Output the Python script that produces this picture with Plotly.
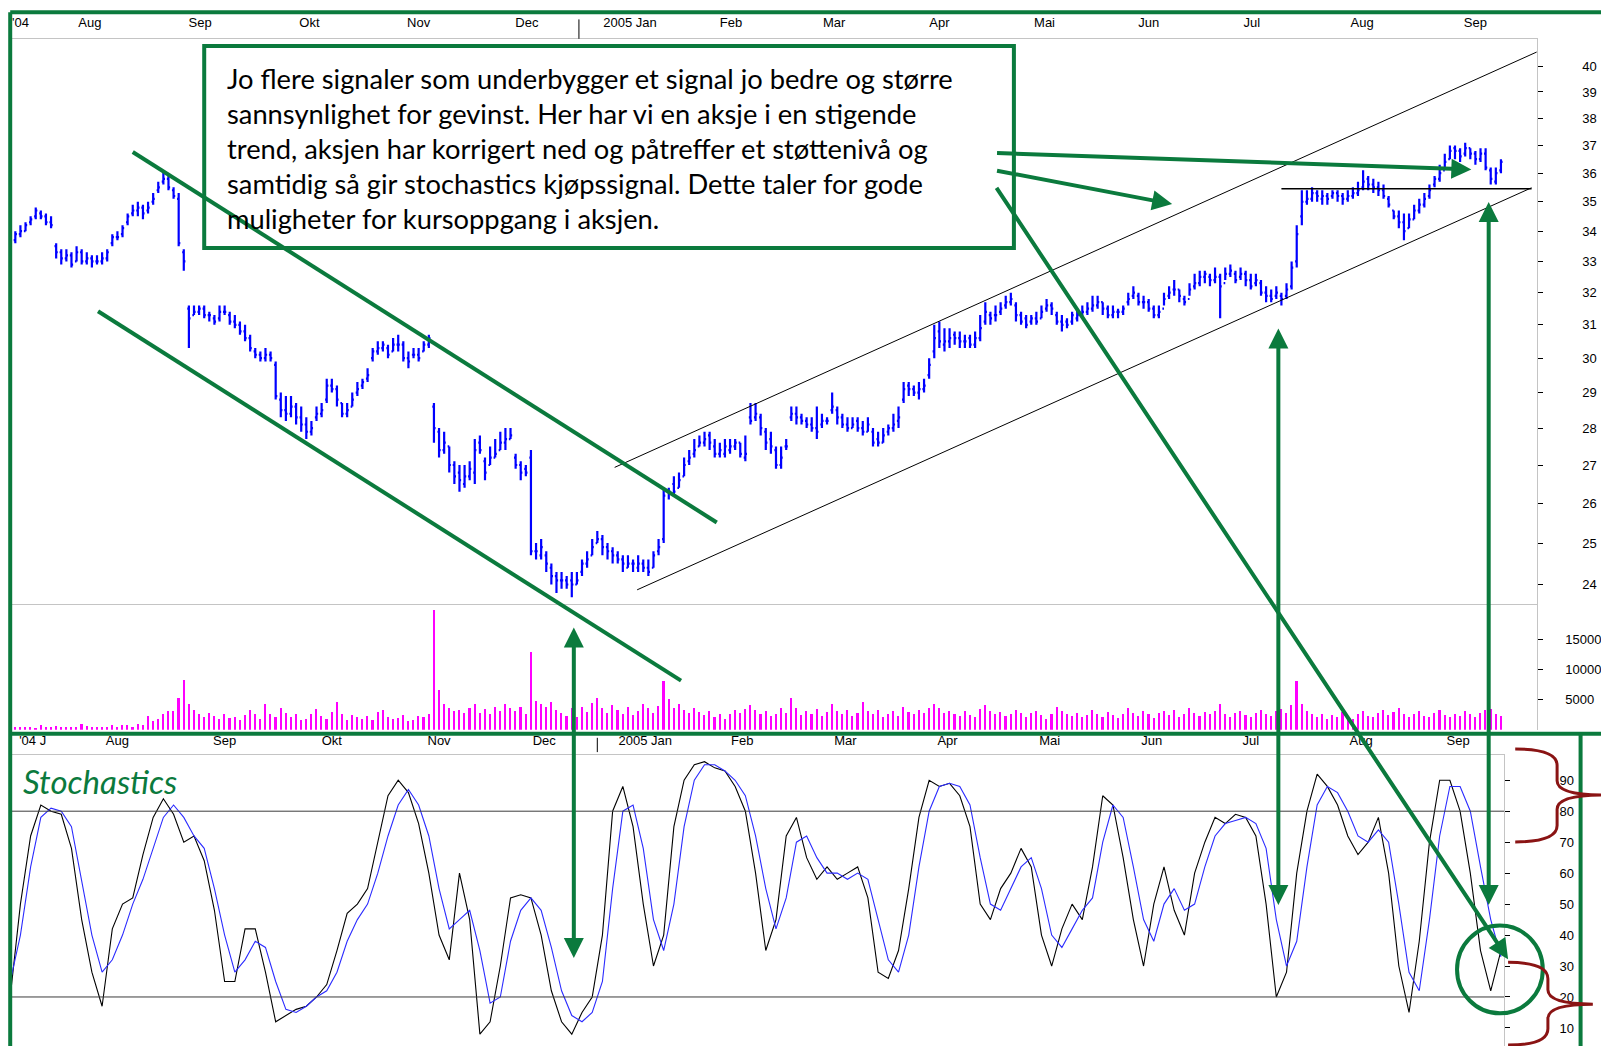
import math
import plotly.graph_objects as go

# ---------------- data (daily bars, index = trading day from late July 2004) ----------------
price_open = [
33.6,33.7,33.9,34.0,34.3,34.5,34.6,34.5,34.3,33.5,
33.3,33.1,33.2,33.0,33.3,33.0,33.1,33.0,33.0,33.1,
33.6,33.8,33.9,34.3,34.6,34.7,34.8,34.7,35.0,35.4,
35.7,35.8,35.4,35.1,33.3,31.5,31.3,31.4,31.5,31.3,
31.2,31.2,31.4,31.3,31.1,31.0,30.8,30.6,30.2,30.1,
30.0,30.1,29.8,28.8,28.5,28.4,28.6,28.3,28.1,27.9,
28.3,28.4,28.8,29.2,29.1,28.7,28.4,28.6,29.0,29.2,
29.4,30.0,30.2,30.3,30.3,30.2,30.4,30.4,30.0,30.1,
30.1,30.2,30.4,28.6,27.9,27.4,27.5,27.0,26.8,26.5,
26.7,26.8,27.6,27.1,27.0,27.2,27.4,27.6,27.7,27.2,
27.0,26.9,27.2,24.8,24.7,24.7,24.4,24.2,24.1,24.1,
24.1,24.0,24.3,24.5,24.7,25.0,25.1,24.9,24.8,24.7,
24.6,24.4,24.5,24.4,24.5,24.4,24.4,24.8,25.1,26.3,
26.5,26.4,26.7,27.1,27.3,27.5,27.6,27.8,27.5,27.3,
27.3,27.4,27.5,27.6,27.2,28.3,28.3,28.3,27.9,27.7,
27.4,27.0,27.5,28.3,28.4,28.3,28.2,28.1,28.0,28.1,
28.2,28.5,28.5,28.3,28.1,28.0,28.2,28.0,27.9,27.9,
27.7,27.6,27.9,28.0,28.2,28.8,29.2,29.1,29.0,29.1,
29.5,30.2,30.8,30.4,30.5,30.7,30.6,30.5,30.6,30.4,
30.6,31.1,31.3,31.3,31.4,31.6,31.7,31.6,31.3,31.2,
31.1,31.2,31.2,31.5,31.6,31.3,31.1,31.1,31.1,31.2,
31.3,31.4,31.5,31.6,31.7,31.5,31.3,31.4,31.4,31.7,
31.9,31.9,31.7,31.7,31.5,31.3,31.5,31.9,32.1,32.1,
31.8,31.8,32.2,32.3,32.5,32.5,32.4,32.5,32.3,32.6,
32.6,32.5,32.6,32.4,32.3,32.3,32.0,31.9,31.9,31.9,
31.9,32.2,33.0,34.5,35.0,35.1,35.3,35.1,35.2,35.2,
35.3,35.2,35.1,35.2,35.3,35.5,35.8,35.6,35.5,35.4,
35.1,34.7,34.5,34.3,34.1,34.4,34.7,34.9,35.2,35.6,
35.8,36.1,36.5,36.9,36.8,36.7,36.9,36.7,36.5,36.7,
36.1,35.7,36.1]

price_high = [
33.9,34.0,34.2,34.3,34.5,34.8,34.7,34.6,34.5,33.6,
33.4,33.4,33.3,33.5,33.4,33.3,33.2,33.2,33.3,33.4,
33.9,34.0,34.2,34.6,34.9,35.0,34.9,35.0,35.3,35.7,
36.1,35.9,35.5,35.3,33.4,31.6,31.6,31.6,31.6,31.4,
31.3,31.6,31.6,31.4,31.3,31.1,31.0,30.7,30.3,30.2,
30.3,30.2,29.9,29.0,28.9,28.9,28.7,28.6,28.3,28.2,
28.6,28.7,29.4,29.4,29.2,28.7,28.7,29.0,29.3,29.4,
29.7,30.3,30.5,30.5,30.4,30.6,30.7,30.5,30.2,30.3,
30.3,30.5,30.7,28.7,28.0,27.9,27.5,27.1,27.0,27.0,
27.1,27.7,27.8,27.2,27.5,27.7,27.9,28.0,28.0,27.3,
27.1,27.0,27.4,25.0,25.1,24.8,24.5,24.3,24.3,24.2,
24.3,24.3,24.6,24.8,25.1,25.3,25.2,25.0,24.9,24.8,
24.7,24.7,24.6,24.7,24.6,24.6,24.8,25.1,26.4,26.4,
26.7,26.8,27.2,27.4,27.7,27.8,27.9,27.9,27.7,27.6,
27.7,27.7,27.7,27.6,27.8,28.7,28.7,28.4,28.0,27.9,
27.5,27.5,27.7,28.6,28.6,28.4,28.3,28.3,28.6,28.4,
28.3,29.0,28.6,28.4,28.3,28.3,28.3,28.2,28.3,28.0,
27.9,28.0,28.1,28.4,28.6,29.3,29.3,29.2,29.3,29.4,
30.0,31.0,31.1,30.9,30.9,30.8,30.8,30.7,30.7,30.8,
31.3,31.7,31.4,31.6,31.7,31.9,32.0,31.7,31.4,31.3,
31.3,31.4,31.6,31.8,31.7,31.4,31.3,31.2,31.4,31.5,
31.6,31.7,31.9,31.9,31.7,31.6,31.6,31.5,31.6,32.0,
32.2,32.0,31.9,31.8,31.6,31.6,32.0,32.2,32.4,32.1,
31.9,32.3,32.6,32.7,32.7,32.6,32.8,32.6,32.8,32.9,
32.7,32.8,32.7,32.6,32.6,32.4,32.2,32.1,32.2,32.0,
32.3,33.0,34.2,35.4,35.4,35.5,35.4,35.4,35.3,35.4,
35.4,35.3,35.4,35.5,35.7,36.1,35.9,35.8,35.7,35.6,
35.2,34.7,34.7,34.6,34.6,34.9,35.1,35.3,35.6,35.9,
36.3,36.7,37.0,37.0,36.9,37.1,36.9,36.8,36.9,36.9,
36.2,36.2,36.5]

price_low = [
33.5,33.6,33.8,34.0,34.2,34.4,34.4,34.2,34.1,33.1,
32.9,33.0,32.8,33.0,32.9,32.9,32.8,32.9,32.9,33.0,
33.5,33.7,33.8,34.2,34.5,34.5,34.4,34.6,34.9,35.3,
35.6,35.4,35.1,33.5,32.7,30.3,31.3,31.3,31.2,31.1,
31.0,31.1,31.3,31.0,30.9,30.7,30.5,30.2,30.0,29.9,
29.9,29.9,28.8,28.3,28.2,28.3,28.1,27.9,27.7,27.8,
28.2,28.3,28.7,29.0,28.6,28.3,28.3,28.6,28.9,29.1,
29.3,29.9,30.1,30.2,30.0,30.2,30.2,29.9,29.7,30.0,
29.9,30.2,30.3,27.6,27.2,27.3,26.8,26.5,26.3,26.4,
26.6,26.5,27.3,26.6,27.0,27.2,27.4,27.4,27.7,26.9,
26.6,26.7,24.7,24.6,24.6,24.3,24.0,23.8,23.9,23.9,
23.7,24.0,24.2,24.4,24.7,25.0,24.7,24.6,24.5,24.5,
24.3,24.4,24.3,24.3,24.3,24.2,24.4,24.7,25.0,26.1,
26.2,26.4,26.7,27.0,27.2,27.5,27.5,27.4,27.2,27.2,
27.2,27.3,27.4,27.2,27.1,28.1,28.2,27.8,27.4,27.3,
26.9,26.9,27.4,28.2,28.1,28.1,28.0,27.9,27.7,28.0,
28.1,28.4,28.1,28.0,27.9,28.0,27.9,27.8,27.9,27.5,
27.5,27.6,27.8,27.9,28.0,28.7,28.9,28.9,28.8,29.0,
29.4,30.0,30.3,30.2,30.3,30.4,30.3,30.3,30.3,30.3,
30.5,31.0,31.0,31.1,31.3,31.5,31.6,31.1,31.0,30.9,
31.0,31.0,31.2,31.4,31.3,31.0,30.8,30.9,31.0,31.1,
31.2,31.3,31.4,31.5,31.3,31.2,31.2,31.2,31.3,31.6,
31.8,31.6,31.5,31.4,31.2,31.2,31.6,31.8,31.9,31.7,
31.6,31.9,32.1,32.2,32.3,32.2,32.3,31.2,32.4,32.5,
32.3,32.4,32.2,32.1,32.2,31.9,31.7,31.7,31.8,31.6,
31.8,32.1,32.8,34.2,34.9,35.0,35.0,34.9,34.9,35.1,
35.0,34.9,35.0,35.1,35.2,35.4,35.4,35.3,35.2,35.1,
34.8,34.4,34.1,33.7,34.1,34.4,34.6,34.8,35.1,35.5,
35.7,36.2,36.5,36.5,36.4,36.6,36.5,36.3,36.4,36.1,
35.6,35.6,36.0]

price_close = [
33.7,33.9,34.0,34.2,34.4,34.7,34.5,34.3,34.2,33.3,
33.1,33.2,32.9,33.3,33.0,33.1,33.0,33.0,33.1,33.3,
33.8,33.8,34.1,34.5,34.7,34.8,34.6,34.8,35.1,35.5,
35.8,35.5,35.2,33.6,33.0,31.2,31.4,31.5,31.3,31.3,
31.1,31.4,31.4,31.1,31.0,30.8,30.6,30.3,30.1,30.0,
30.1,30.0,28.9,28.5,28.4,28.6,28.3,28.1,27.9,28.0,
28.4,28.5,29.2,29.1,28.8,28.4,28.5,28.8,29.1,29.3,
29.5,30.2,30.3,30.4,30.1,30.4,30.4,30.0,29.9,30.1,
30.0,30.4,30.6,28.0,27.4,27.6,27.0,26.7,26.6,26.7,
26.9,27.4,27.4,26.8,27.2,27.3,27.6,27.7,27.8,27.0,
26.8,26.8,24.8,24.8,24.9,24.5,24.2,24.1,24.1,24.0,
24.0,24.1,24.5,24.6,24.9,25.1,24.9,24.8,24.7,24.6,
24.5,24.5,24.5,24.5,24.4,24.3,24.7,24.9,26.2,26.3,
26.3,26.6,27.0,27.2,27.4,27.6,27.7,27.6,27.3,27.4,
27.5,27.5,27.6,27.3,27.3,28.2,28.4,28.0,27.6,27.5,
27.0,27.2,27.5,28.4,28.3,28.2,28.1,28.0,27.9,28.2,
28.2,28.6,28.3,28.1,28.0,28.1,28.0,27.9,28.1,27.6,
27.6,27.8,28.0,28.1,28.3,29.1,29.1,29.0,29.1,29.2,
29.8,30.6,30.5,30.5,30.6,30.6,30.5,30.5,30.4,30.6,
30.9,31.4,31.2,31.3,31.5,31.7,31.8,31.3,31.1,31.0,
31.2,31.1,31.4,31.6,31.5,31.1,31.0,31.0,31.3,31.3,
31.4,31.5,31.6,31.7,31.5,31.3,31.4,31.4,31.5,31.8,
32.0,31.7,31.7,31.5,31.3,31.4,31.8,32.0,32.1,31.9,
31.7,32.1,32.3,32.5,32.6,32.4,32.5,32.2,32.6,32.7,
32.4,32.6,32.4,32.2,32.4,32.0,31.9,31.8,32.0,31.8,
32.1,32.8,33.9,35.0,35.1,35.3,35.2,35.2,35.1,35.3,
35.2,35.1,35.2,35.3,35.4,35.7,35.6,35.5,35.4,35.2,
34.9,34.5,34.3,34.0,34.4,34.7,34.9,35.1,35.4,35.8,
36.0,36.4,36.8,36.8,36.6,36.9,36.7,36.5,36.7,36.2,
35.8,36.0,36.4]

volume = [
600,400,500,450,350,300,800,500,400,600,
500,350,450,400,900,600,450,500,400,350,
700,450,800,700,500,900,700,2200,1400,1800,
2500,3000,3000,5200,8200,4200,3200,2500,2000,2800,
2200,1700,2500,1900,2000,1500,2400,3200,2600,1800,
4300,2500,2100,3600,2800,2000,2600,1500,1800,2500,
3400,2200,1700,2900,4500,2600,1500,2400,2000,1800,
2200,1600,2900,3200,2100,1700,1900,2400,1400,1600,
2200,2000,2600,19800,6500,4300,3500,3000,3200,2800,
3500,4200,2800,3400,2600,3800,3000,4200,3600,3000,
3800,2600,12900,4800,4200,3800,4500,3200,2800,2200,
3600,2000,3800,2900,4400,5300,3600,2800,4000,3200,
2500,3700,2400,3000,4200,3500,2700,3900,8000,5000,
3600,4200,3200,2800,3500,2900,2400,3100,2000,2600,
1800,2500,3200,2700,3400,4100,3300,2600,3000,2200,
2500,3600,2800,5300,3500,2400,3000,2600,3400,2200,
2900,4200,3100,2500,3300,2200,2800,4500,3000,2600,
3200,2100,2600,3000,2200,3800,2900,2500,3300,2800,
3600,4200,3500,2800,3100,2600,2200,3000,2400,2000,
3400,4000,3000,2600,2900,2200,2500,3200,2700,2100,
2800,3000,2400,1800,2600,3700,3000,2500,2200,2800,
2000,2400,3300,2600,2100,2900,2400,1900,2600,3500,
2800,2200,3000,2500,1900,2700,3100,2400,3300,2000,
2600,3600,2800,2200,2900,2500,3000,4200,2600,2100,
2700,3100,2400,2000,2800,3300,2600,2300,3000,3400,
2800,4000,8000,4200,3000,2600,2100,2500,1800,2400,
2000,2900,2200,1700,2500,3000,2300,2000,2700,3200,
2400,2900,3500,2600,2100,2500,3000,2200,2000,2700,
3300,2400,2000,2600,2200,3000,2500,2100,2700,3200,
3400,2600,2300]

# stochastics, read every second trading day
stoch_k = [
20,50,72,82,80,79,68,45,28,17,
42,50,52,66,78,84,79,70,72,64,
48,25,25,42,42,28,12,14,16,17,
20,24,35,47,50,55,70,85,90,86,
76,60,40,32,60,45,8,12,30,52,
53,52,40,22,12,8,15,20,40,80,
88,75,50,30,40,75,90,95,96,94,
93,88,80,60,35,45,72,78,65,58,
62,58,60,62,52,28,26,35,55,78,
90,88,89,85,75,50,45,55,60,68,
62,40,30,42,50,45,62,85,82,65,
45,30,50,62,48,40,60,70,78,76,
79,78,72,50,20,28,60,80,92,88,
82,72,66,70,78,60,30,15,38,70,
90,90,80,60,35,22,35]
stoch_d = [
25,40,62,78,81,80,75,58,40,28,
32,40,50,58,68,78,82,78,72,68,
55,40,28,32,38,36,25,16,15,17,
20,22,28,38,45,50,60,72,82,87,
82,72,55,42,45,48,35,18,20,38,
48,52,48,36,22,14,12,15,25,55,
80,82,68,45,35,50,75,90,95,95,
93,90,85,72,55,42,52,70,72,65,
60,60,58,60,58,45,32,28,40,62,
80,88,89,88,82,65,50,48,55,62,
65,55,40,36,42,48,52,70,82,78,
62,45,38,50,55,48,50,62,72,76,
77,78,76,68,45,30,38,62,82,88,
86,80,72,70,74,70,50,28,22,45,
72,88,88,80,62,45,33]

# month labels (top chart) and month boundaries, in trading-day units
top_label_pos = [2, 15.6, 37.2, 58.6, 80, 101.2, 121.4, 141.2, 161.4, 182, 202.6, 223, 243.2, 264.8, 287]
top_label_txt = ["'04", "Aug", "Sep", "Okt", "Nov", "Dec", "2005 Jan", "Feb", "Mar", "Apr", "Mai", "Jun", "Jul", "Aug", "Sep"]
month_starts = [5, 26.4, 48, 69, 90.4, 111.4, 131.4, 151, 171.8, 192.4, 212.8, 232.4, 253.2, 275.8, 297.2]
low_label_pos = [4.4, 21, 42, 63, 84, 104.6, 124.4, 143.4, 163.6, 183.6, 203.6, 223.6, 243, 264.6, 283.6]
low_label_txt = ["'04 J", "Aug", "Sep", "Okt", "Nov", "Dec", "2005 Jan", "Feb", "Mar", "Apr", "Mai", "Jun", "Jul", "Aug", "Sep"]
price_ticks = list(range(24, 41))
vol_ticks = [5000, 10000, 15000]
stoch_ticks = [10, 20, 30, 40, 50, 60, 70, 80, 90]

note_lines = [
    "Jo flere signaler som underbygger et signal jo bedre og større",
    "sannsynlighet for gevinst. Her har vi en aksje i en stigende",
    "trend, aksjen har korrigert ned og påtreffer et støttenivå og",
    "samtidig så gir stochastics kjøpssignal. Dette taler for gode",
    "muligheter for kursoppgang i aksjen.",
]

# ---------------- layout helpers ----------------
W, H = 1601, 1046
RW, RH = 1568.0, 1025.0   # reference measuring grid
S = W / RW


def px(x):
    return x / RW


def py(y):
    return 1 - y / RH


GREEN = "#0b7a3d"
RED = "#8a1414"
GRAY = "#c4c4c4"
AXFONT = dict(family="Liberation Sans, Arial, sans-serif", size=13, color="#000")

day = list(range(len(price_close)))
sday = list(range(0, 2 * len(stoch_k), 2))

fig = go.Figure()
fig.add_trace(go.Ohlc(
    x=day, open=price_open, high=price_high, low=price_low, close=price_close,
    xaxis="x", yaxis="y", tickwidth=0.32,
    increasing=dict(line=dict(color="#0000ff", width=2.2)),
    decreasing=dict(line=dict(color="#0000ff", width=2.2)),
    hoverinfo="skip", showlegend=False))
fig.add_trace(go.Bar(
    x=day, y=volume, xaxis="x", yaxis="y2", width=0.42,
    marker=dict(color="#ff00ff", line=dict(width=0)), hoverinfo="skip", showlegend=False))
fig.add_trace(go.Scatter(
    x=sday, y=stoch_k, xaxis="x3", yaxis="y3", mode="lines",
    line=dict(color="#000000", width=1.1), hoverinfo="skip", showlegend=False))
fig.add_trace(go.Scatter(
    x=sday, y=stoch_d, xaxis="x3", yaxis="y3", mode="lines",
    line=dict(color="#2b2bff", width=1.1), hoverinfo="skip", showlegend=False))

xr = [0, (1505 - 10) / 5]
fig.update_layout(
    width=W, height=H, autosize=False,
    margin=dict(l=0, r=0, t=0, b=0, pad=0),
    paper_bgcolor="white", plot_bgcolor="white",
    showlegend=False, bargap=0,
    xaxis=dict(domain=[px(10), px(1505)], range=xr, anchor="y", side="top",
               tickmode="array", tickvals=top_label_pos, ticktext=top_label_txt,
               ticks="outside", ticklen=6, tickcolor="rgba(0,0,0,0)",
               showline=True, linecolor=GRAY, linewidth=1, mirror=True,
               showgrid=False, zeroline=False, tickfont=AXFONT,
               rangeslider=dict(visible=False), fixedrange=True),
    xaxis2=dict(overlaying="x", anchor="y", side="top", range=xr,
                tickmode="array", tickvals=month_starts, showticklabels=False,
                ticks="outside", ticklen=6, tickcolor="#000", tickwidth=1,
                showline=False, showgrid=False, zeroline=False, fixedrange=True),
    yaxis=dict(domain=[py(592), py(38)], type="log",
               range=[math.log10(23.54), math.log10(41.1)], anchor="x", side="right",
               tickmode="array", tickvals=price_ticks, ticktext=[str(v) for v in price_ticks],
               ticks="outside", ticklen=5, tickcolor="#000",
               showline=True, linecolor=GRAY, showgrid=False, zeroline=False,
               tickfont=AXFONT, ticklabelstandoff=37, ticklabeloverflow="allow",
               fixedrange=True),
    yaxis2=dict(domain=[py(715), py(592)], range=[0, 20850], anchor="x", side="right",
                tickmode="array", tickvals=vol_ticks, ticktext=[str(v) for v in vol_ticks],
                ticks="outside", ticklen=5, tickcolor="#000",
                showline=True, linecolor=GRAY, showgrid=False, zeroline=False,
                tickfont=AXFONT, ticklabelstandoff=20, ticklabeloverflow="allow",
                fixedrange=True),
    xaxis3=dict(domain=[px(10), px(1473)], range=[0, (1473 - 10) / 5], anchor="y3", side="top",
                tickmode="array", tickvals=low_label_pos, ticktext=low_label_txt,
                ticks="outside", ticklen=4, tickcolor="rgba(0,0,0,0)",
                showline=True, linecolor=GRAY, showgrid=False, zeroline=False,
                tickfont=AXFONT, fixedrange=True),
    yaxis3=dict(domain=[0, py(740)], range=[4.17, 98.1], anchor="x3", side="right",
                tickmode="array", tickvals=stoch_ticks, ticktext=[str(v) for v in stoch_ticks],
                ticks="outside", ticklen=5, tickcolor="#000",
                showline=True, linecolor=GRAY, showgrid=False, zeroline=False,
                tickfont=AXFONT, ticklabelstandoff=47, ticklabeloverflow="allow",
                fixedrange=True),
)

shapes = []


def pline(x0, y0, x1, y1, color, width, dash=None):
    d = dict(type="line", xref="paper", yref="paper",
             x0=px(x0), y0=py(y0), x1=px(x1), y1=py(y1),
             line=dict(color=color, width=width))
    if dash:
        d["line"]["dash"] = dash
    shapes.append(d)


# stochastic 80 / 20 lines
for lvl in (80, 20):
    shapes.append(dict(type="line", xref="paper", yref="y3", x0=px(10), x1=px(1473), y0=lvl, y1=lvl,
                       line=dict(color="#3c3c3c", width=1)))
# year separator ticks
shapes.append(dict(type="line", xref="x", yref="paper", x0=month_starts[5], x1=month_starts[5],
                   y0=py(38), y1=py(19), line=dict(color="#000", width=1)))
pline(585, 723, 585, 737, "#000", 1)

# trend channel (thin black) and support line
pline(602, 458, 1505, 51, "#000", 1)
pline(624, 578, 1500, 184, "#000", 1)
pline(1255, 185, 1500, 185, "#000", 1.5)

# green falling trend lines
pline(130, 149, 702, 512, GREEN, 4)
pline(96, 305, 667, 667, GREEN, 4)

# green frame lines
pline(10, 12, 1568, 12, GREEN, 4)
pline(10, 12, 10, 1025, GREEN, 4)
pline(10, 719, 1568, 719, GREEN, 4)
pline(1548, 719, 1548, 1025, GREEN, 4)

# text box
shapes.append(dict(type="rect", xref="paper", yref="paper",
                   x0=px(200), y0=py(243), x1=px(993), y1=py(45),
                   line=dict(color=GREEN, width=4), fillcolor="rgba(0,0,0,0)"))
# circle
shapes.append(dict(type="circle", xref="paper", yref="paper",
                   x0=px(1427), x1=px(1511), y0=py(993), y1=py(907),
                   line=dict(color=GREEN, width=4)))


def brace(xl, yt, yb, xs, xt, ym):
    pts = (f"M {px(xl)},{py(yt)} Q {px(xs)},{py(yt)} {px(xs)},{py(yt + 16)} "
           f"L {px(xs)},{py(ym - 14)} Q {px(xs)},{py(ym)} {px(xt)},{py(ym)} "
           f"Q {px(xs)},{py(ym)} {px(xs)},{py(ym + 14)} "
           f"L {px(xs)},{py(yb - 16)} Q {px(xs)},{py(yb)} {px(xl)},{py(yb)}")
    shapes.append(dict(type="path", xref="paper", yref="paper", path=pts,
                       line=dict(color=RED, width=3)))


brace(1484, 734, 825, 1525, 1570, 779)
brace(1477, 943, 1024, 1516, 1560, 984)

fig.update_layout(shapes=shapes)

ann = []


def arrow(tx, ty, hx, hy, both=False):
    a = dict(xref="paper", yref="paper", x=px(hx), y=py(hy),
             ax=(tx - hx) * S, ay=(ty - hy) * S, axref="pixel", ayref="pixel",
             text="", showarrow=True, arrowhead=2, arrowsize=1.0, arrowwidth=4,
             arrowcolor=GREEN, standoff=0, startstandoff=0)
    if both:
        a["arrowside"] = "end+start"
        a["startarrowhead"] = 2
        a["startarrowsize"] = 1.0
    ann.append(a)


arrow(975, 150, 1441, 166)
arrow(975, 167, 1148, 200)
arrow(975, 183, 1477, 940)
arrow(562, 940, 562, 615, both=True)
arrow(1252, 888, 1252, 322, both=True)
arrow(1458, 888, 1458, 198, both=True)

for i, t in enumerate(note_lines):
    ann.append(dict(xref="paper", yref="paper", x=px(220), y=py(77 + i * 34.3),
                    xanchor="left", yanchor="middle", text=t, showarrow=False,
                    font=dict(family="Lato, Carlito, sans-serif", size=27.3, color="#000")))

ann.append(dict(xref="paper", yref="paper", x=px(21), y=py(765), xanchor="left", yanchor="middle",
                text="<i>Stochastics</i>", showarrow=False,
                font=dict(family="Lato, sans-serif", size=33, color=GREEN)))

fig.update_layout(annotations=ann)

fig.write_html("out.html", config={"displayModeBar": False},
               post_script="document.body.style.margin='0px';")
